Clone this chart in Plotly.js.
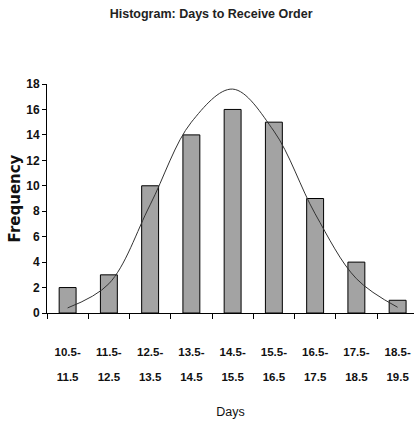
<!DOCTYPE html>
<html>
<head>
<meta charset="utf-8">
<script src="https://cdn.plot.ly/plotly-3.0.1.min.js"></script>
<style>html,body{margin:0;padding:0;background:#fff;}#chart{width:414px;height:426px;}</style>
</head>
<body>
<div id="chart"></div>
<script>
const categories = ["10.5-11.5","11.5-12.5","12.5-13.5","13.5-14.5","14.5-15.5","15.5-16.5","16.5-17.5","17.5-18.5","18.5-19.5"];
const tickTop = ["10.5-","11.5-","12.5-","13.5-","14.5-","15.5-","16.5-","17.5-","18.5-"];
const tickBottom = ["11.5","12.5","13.5","14.5","15.5","16.5","17.5","18.5","19.5"];
const frequency = [2, 3, 10, 14, 16, 15, 9, 4, 1];
const normalCurve = [0.4, 2.3, 8.5, 15.0, 17.6, 14.3, 7.8, 2.7, 0.45];

const font = '"Liberation Sans", Arial, sans-serif';
const idx = categories.map((_, i) => i);

const traces = [
  {type:'bar', x: categories, y: frequency, marker:{color:'#a3a3a3', line:{color:'#000', width:1}}, hoverinfo:'none'},
  {type:'scatter', mode:'lines', x: categories, y: normalCurve, line:{color:'#333', width:1, shape:'spline', smoothing:1}, hoverinfo:'none'},
  {type:'scatter', mode:'markers', x: idx, y: frequency, xaxis:'x2', yaxis:'y', marker:{opacity:0, size:1}, hoverinfo:'none'}
];

const layout = {
  width:414, height:426,
  margin:{l:47, r:0, t:84, b:113},
  paper_bgcolor:'#fff', plot_bgcolor:'#fff',
  showlegend:false,
  bargap:0.59,
  title:{text:'Histogram: Days to Receive Order', font:{family:font, size:12.5, color:'#222', weight:'bold'}, x:0.51, xref:'container', xanchor:'center', y:1-14/426, yref:'container', yanchor:'middle'},
  xaxis:{type:'category', range:[-0.5, 8.397], tickvals: categories, ticktext: tickTop, tickson:'boundaries', ticks:'outside', ticklen:5, tickcolor:'#000', showline:true, linecolor:'#000', linewidth:1, showgrid:false, zeroline:false, ticklabelstandoff:28, tickfont:{family:font, size:11.5, color:'#111', weight:'bold'},
    title:{text:'Days', font:{family:font, size:12.5, color:'#111'}, standoff:50}},
  xaxis2:{type:'linear', overlaying:'x', anchor:'y', side:'bottom', range:[-0.5, 8.397], tickvals: idx, ticktext: tickBottom, ticks:'', showline:false, showgrid:false, zeroline:false, ticklabelstandoff:55, tickfont:{family:font, size:11.5, color:'#111', weight:'bold'}},
  yaxis:{range:[0,18], dtick:2, ticks:'outside', ticklen:4, tickcolor:'#000', showline:true, linecolor:'#000', linewidth:1, showgrid:false, zeroline:false, tickfont:{family:font, size:12, color:'#111', weight:'bold'},
    title:{text:'Frequency', font:{family:'"DejaVu Sans", sans-serif', size:15, color:'#111', weight:'bold'}, standoff:1}}
};

Plotly.newPlot('chart', traces, layout, {staticPlot:true, displayModeBar:false});
</script>
</body>
</html>
